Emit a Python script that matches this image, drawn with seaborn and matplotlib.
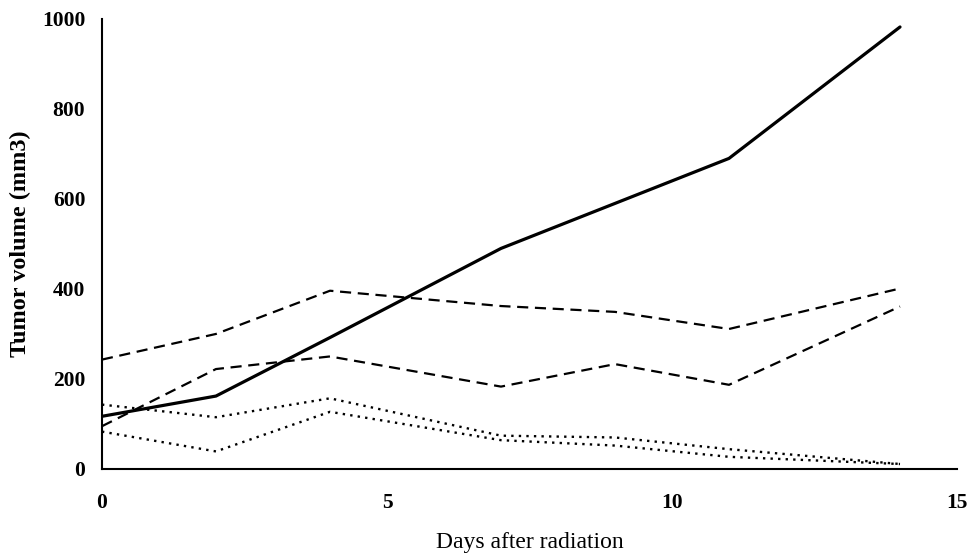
import matplotlib
matplotlib.use("Agg")
import matplotlib.pyplot as plt
import seaborn as sns
import pandas as pd

days = [0, 2, 4, 7, 9, 11, 14]
solid = [117, 162, 292, 490, 590, 690, 982]
dash_upper = [243, 300, 396, 362, 349, 311, 401]
dash_lower = [95, 222, 250, 183, 233, 187, 361]
dot_upper = [143, 115, 157, 74, 70, 44, 11]
dot_lower = [83, 39, 127, 64, 52, 27, 11]

series = {
    "solid": (solid, "-", 2.3),
    "dash_upper": (dash_upper, (0, (5, 3)), 1.6),
    "dash_lower": (dash_lower, (0, (5, 3)), 1.6),
    "dot_upper": (dot_upper, (0, (1, 2.2)), 1.7),
    "dot_lower": (dot_lower, (0, (1, 2.2)), 1.7),
}

sns.set_style("white")
plt.rcParams["font.family"] = ["Liberation Serif", "DejaVu Serif"]

fig = plt.figure(figsize=(9.71, 5.55), dpi=100)
ax = fig.add_axes([0.105, 0.155, 0.8806, 0.811])

for name, (vals, ls, lw) in series.items():
    df = pd.DataFrame({"day": days, "vol": vals})
    sns.lineplot(data=df, x="day", y="vol", ax=ax, color="black",
                 linestyle=ls, linewidth=lw)

ax.set_xlim(0, 15)
ax.set_ylim(0, 1000)
ax.set_xticks([0, 5, 10, 15])
ax.set_yticks([0, 200, 400, 600, 800, 1000])
for s in ["top", "right"]:
    ax.spines[s].set_visible(False)
for s in ["left", "bottom"]:
    ax.spines[s].set_color("black")
    ax.spines[s].set_linewidth(1.5)
ax.tick_params(axis="both", direction="in", length=5, width=1.2, colors="black")
ax.tick_params(axis="x", pad=17, labelsize=15.5)
ax.tick_params(axis="y", pad=12, labelsize=15.5)
for lab in ax.get_xticklabels() + ax.get_yticklabels():
    lab.set_fontweight("bold")
ax.set_xlabel("Days after radiation", fontsize=17, labelpad=14, color="black")
ax.set_ylabel("Tumor volume (mm3)", fontsize=17.5, fontweight="bold",
              labelpad=8, color="black")

fig.savefig("out.png", dpi=100)
